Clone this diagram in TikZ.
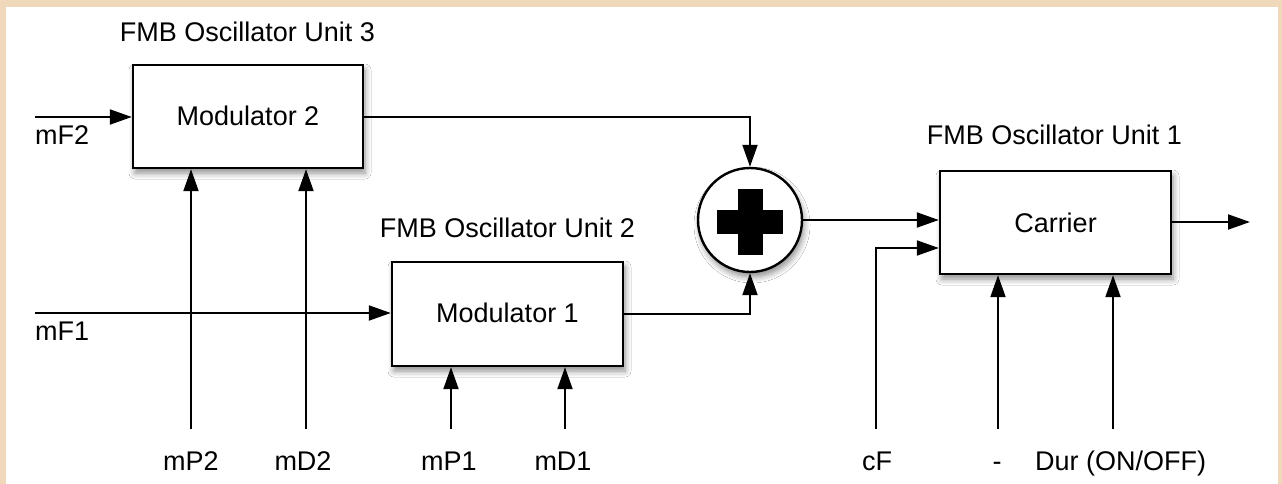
\documentclass[tikz,border=0pt]{standalone}
\usepackage{fontspec}
\setmainfont{Liberation Sans}
\usetikzlibrary{arrows.meta,shadows.blur}
\definecolor{beige}{RGB}{240,217,186}
\tikzset{
  blk/.style={draw=black, line width=2.4pt, fill=white, inner sep=0pt,
    blur shadow={shadow xshift=2pt, shadow yshift=-5pt, shadow blur steps=6, shadow opacity=45, shadow blur radius=6pt}},
  arr/.style={line width=2pt, -{Triangle[length=22pt,width=15pt]}},
  ln/.style={line width=2pt},
  lbl/.style={inner sep=0pt, font=\fontsize{27}{32}\selectfont},
}
\begin{document}
\begin{tikzpicture}[x=1pt,y=-1pt]
\fill[beige] (0,0) rectangle (1282,484);
\fill[white] (6,7) rectangle (1278,484);
\useasboundingbox (0,0) rectangle (1282,484);

% boxes
\node[blk, minimum width=230pt, minimum height=103pt] (mod2) at (248,116.5) {};
\node[blk, minimum width=231pt, minimum height=104pt] (mod1) at (507.5,314) {};
\node[blk, minimum width=231pt, minimum height=103pt] (car) at (1055.5,222.5) {};
\node[blk, circle, minimum size=104pt] (sum) at (750,220) {};
\fill (738,189) rectangle (763,255);
\fill (717,210) rectangle (783,234);

% box texts
\node[lbl, anchor=base] (t2) at (248,125) {Modulator 2};
\node[lbl, anchor=base] (t1) at (507.5,322) {Modulator 1};
\node[lbl, anchor=base] (tc) at (1055.5,232) {Carrier};

% titles
\node[lbl, anchor=base] (u3) at (247.5,42) {FMB Oscillator Unit 3};
\node[lbl, anchor=base] (u2) at (507.5,237) {FMB Oscillator Unit 2};
\node[lbl, anchor=base] (u1) at (1054.5,145) {FMB Oscillator Unit 1};

% input coordinates
\coordinate (inF2) at (35,117);
\coordinate (inF1) at (35,313);
\coordinate (iP2) at (191,429);
\coordinate (iD2) at (306,429);
\coordinate (iP1) at (451,429);
\coordinate (iD1) at (565,429);
\coordinate (icF) at (876,429);
\coordinate (iX) at (998,429);
\coordinate (iDur) at (1113,429);
\coordinate (out) at (1250,222);

% labels
\node[lbl, anchor=base west] (lF2) at (35,145) {mF2};
\node[lbl, anchor=base west] (lF1) at (35,340) {mF1};
\node[lbl, anchor=base] (lP2) at (191,470) {mP2};
\node[lbl, anchor=base] (lD2) at (303,470) {mD2};
\node[lbl, anchor=base] (lP1) at (449,470) {mP1};
\node[lbl, anchor=base] (lD1) at (563,470) {mD1};
\node[lbl, anchor=base] (lcF) at (877,470) {cF};
\node[lbl, anchor=base] (lX) at (997,470) {-};
\node[lbl, anchor=base west] (lDur) at (1035,470) {Dur (ON/OFF)};

% connectors
\draw[arr] (inF2) -- (inF2 -| mod2.west);
\draw[arr] (inF1) -- (inF1 -| mod1.west);
\draw[arr] (iP2) -- (iP2 |- mod2.south);
\draw[arr] (iD2) -- (iD2 |- mod2.south);
\draw[arr] (iP1) -- (iP1 |- mod1.south);
\draw[arr] (iD1) -- (iD1 |- mod1.south);
\draw[arr] (mod2.east |- 0,117) -| (sum.north);
\draw[arr] (mod1.east) -| (sum.south);
\draw[arr] (sum.east) -- (car.west |- sum.east);
\draw[arr] (icF) |- (car.west |- 0,248);
\draw[arr] (iX) -- (iX |- car.south);
\draw[arr] (iDur) -- (iDur |- car.south);
\draw[arr] (car.east |- out) -- (out);
\end{tikzpicture}
\end{document}
